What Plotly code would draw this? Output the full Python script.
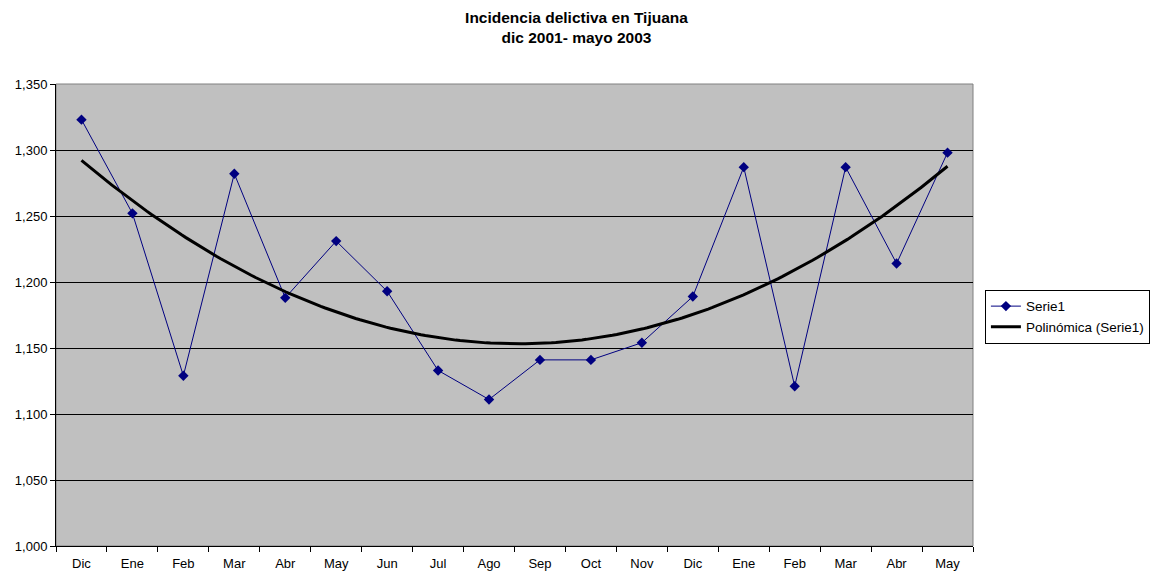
import numpy as np
import plotly.graph_objects as go

months = ["Dic", "Ene", "Feb", "Mar", "Abr", "May", "Jun", "Jul", "Ago",
          "Sep", "Oct", "Nov", "Dic", "Ene", "Feb", "Mar", "Abr", "May"]
serie1 = [1323, 1252, 1129, 1282, 1188, 1231, 1193, 1133, 1111,
          1141, 1141, 1154, 1189, 1287, 1121, 1287, 1214, 1298]

xi = np.arange(len(months))
coef = np.polyfit(xi, serie1, 2)
xs = np.linspace(0, len(months) - 1, 200)
trend = np.polyval(coef, xs)

fig = go.Figure()
fig.add_trace(go.Scatter(
    x=xi, y=serie1, mode="lines+markers", name="Serie1",
    line=dict(color="#000080", width=1),
    marker=dict(symbol="diamond", size=8, color="#000080"),
))
fig.add_trace(go.Scatter(
    x=xs, y=trend, mode="lines", name="Polinómica (Serie1)",
    line=dict(color="black", width=3),
))

font = "Liberation Sans, Arial, sans-serif"
fig.update_layout(
    width=1153, height=571,
    margin=dict(l=56, r=180, t=84, b=25, autoexpand=False),
    paper_bgcolor="white", plot_bgcolor="#C0C0C0",
    font=dict(family=font, size=13, color="black"),
    title=dict(text="<b>Incidencia delictiva en Tijuana<br>dic 2001- mayo 2003</b>",
               x=0.5, xanchor="center", y=0.96, yanchor="top",
               font=dict(size=15.5, family=font)),
    showlegend=True,
    legend=dict(x=1.013, y=0.496, xanchor="left", yanchor="middle",
                bordercolor="black", borderwidth=1, bgcolor="white",
                font=dict(size=13.5, family=font), tracegroupgap=0,
                itemwidth=30),
    xaxis=dict(
        automargin=False,
        range=[-0.5, len(months) - 0.5],
        tickmode="array", tickvals=list(xi), ticktext=months,
        ticks="", showgrid=False, zeroline=False,
        showline=True, linecolor="black", linewidth=1, mirror=False,
        ticklabelstandoff=5,
        minor=dict(tickmode="array", tickvals=list(np.arange(-0.5, len(months), 1.0)),
                   ticks="outside", ticklen=5, tickcolor="black", showgrid=False),
        tickfont=dict(size=13),
    ),
    yaxis=dict(
        automargin=False,
        range=[1000, 1350], tickmode="linear", tick0=1000, dtick=50,
        tickformat=",", ticks="outside", ticklen=5, tickcolor="black",
        showgrid=True, gridcolor="black", gridwidth=1, zeroline=False,
        showline=True, linecolor="black", linewidth=1,
        tickfont=dict(size=13),
    ),
)
fig.add_shape(type="rect", xref="paper", yref="paper", x0=0, y0=0, x1=1, y1=1,
              line=dict(color="#808080", width=1), layer="below")

fig.write_html("out.html", config={"displayModeBar": False},
               post_script="document.body.style.margin='0px';document.body.style.overflow='hidden';")
